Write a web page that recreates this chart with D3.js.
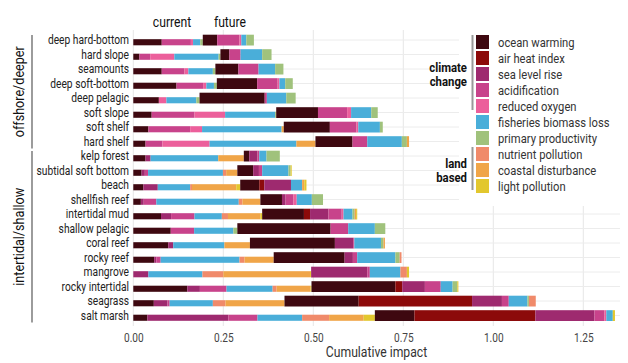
<!DOCTYPE html>
<html><head><meta charset="utf-8">
<script src="https://cdn.jsdelivr.net/npm/d3@7"></script>
<style>
body{margin:0;background:#fff;}
text{font-family:"Roboto","Noto Sans",sans-serif;}
</style></head>
<body><svg id="c" width="628" height="363"></svg>
<script>
const categories = ["deep hard-bottom","hard slope","seamounts","deep soft-bottom","deep pelagic","soft slope","soft shelf","hard shelf",
  "kelp forest","subtidal soft bottom","beach","shellfish reef","intertidal mud","shallow pelagic","coral reef","rocky reef","mangrove","rocky intertidal","seagrass","salt marsh"];
const groups = [{name:"offshore/deeper", from:0, to:7},{name:"intertidal/shallow", from:8, to:19}];
const stressors = ["ocean warming","air heat index","sea level rise","acidification","reduced oxygen","fisheries biomass loss","primary productivity","nutrient pollution","coastal disturbance","light pollution"];
const colors = ["#3e0810","#8c0a0a","#9e2a6f","#c8438b","#ec5f9b","#4aaed9","#a0c27c","#f08a6a","#f0a548","#e2c72e"];
const legendGroups = [{name:["climate","change"], from:0, to:4},{name:["land","based"], from:7, to:9}];
const xTicks = [0,0.25,0.5,0.75,1.0,1.25];
// columns follow stressors order
const currentImpact = [
 [0.079,0,0,0.081,0.006,0.020,0.007,0,0,0],
 [0.017,0,0,0.030,0.067,0.123,0.005,0,0,0],
 [0.079,0,0,0.063,0.011,0.068,0.007,0,0,0],
 [0.120,0,0,0.074,0.009,0.021,0.008,0,0,0],
 [0.071,0,0,0,0.021,0.083,0.009,0,0,0],
 [0.051,0,0,0.119,0.085,0.139,0.003,0,0,0],
 [0.042,0,0,0.116,0.033,0.221,0,0,0.006,0],
 [0.034,0,0,0.047,0.131,0.241,0,0,0.053,0],
 [0.034,0,0.014,0,0,0.188,0,0,0.071,0],
 [0.023,0,0.009,0.009,0,0.208,0,0.009,0.031,0],
 [0.028,0,0.040,0,0,0.090,0,0.005,0.123,0.011],
 [0.021,0,0.008,0.035,0,0.229,0,0.010,0.050,0],
 [0.077,0,0.028,0.065,0,0.076,0,0.017,0.090,0.005],
 [0.104,0,0,0.065,0,0.109,0.011,0,0,0],
 [0.097,0,0.014,0,0,0.142,0,0,0.071,0],
 [0.058,0,0.006,0.012,0,0.219,0,0.014,0.081,0],
 [0,0,0.042,0,0,0.150,0,0.058,0.241,0.003],
 [0.150,0,0.035,0.074,0,0.128,0,0.011,0.094,0.003],
 [0.057,0,0.038,0.006,0,0.120,0,0.035,0.164,0],
 [0.039,0,0.225,0.081,0,0.124,0,0.075,0.096,0.031]
];
const futureImpact = [
 [0.040,0,0,0.062,0.005,0.014,0.021,0,0,0],
 [0.025,0,0,0.031,0,0.060,0.026,0,0,0],
 [0.064,0,0,0.056,0,0.046,0.023,0,0,0],
 [0.112,0,0,0.057,0.005,0.016,0.021,0,0,0],
 [0.181,0,0,0.006,0,0.054,0.026,0,0,0],
 [0.116,0,0,0.081,0.011,0.056,0.018,0,0,0],
 [0.128,0,0,0.074,0.005,0.060,0.008,0,0,0],
 [0.103,0,0,0.041,0,0.096,0.014,0,0.006,0],
 [0.015,0,0.023,0.005,0,0.020,0.037,0,0,0],
 [0.044,0,0.016,0.009,0,0.073,0.006,0,0,0.003],
 [0.053,0.014,0.074,0,0,0.031,0,0,0.006,0.006],
 [0.060,0,0.010,0.022,0.009,0.042,0.031,0,0,0],
 [0.116,0.017,0.051,0.037,0.005,0.025,0.006,0,0.004,0.003],
 [0.259,0,0,0.049,0,0.074,0.029,0,0,0],
 [0.236,0,0.051,0.003,0,0.074,0.007,0,0.004,0],
 [0.197,0,0.023,0.012,0,0.106,0.012,0.005,0,0],
 [0,0,0.156,0.007,0,0.085,0,0.018,0,0.006],
 [0.233,0.019,0.063,0.044,0,0.033,0.013,0,0,0.003],
 [0.206,0.315,0.083,0.019,0,0.052,0.004,0.019,0,0],
 [0.110,0.336,0.164,0.028,0.005,0.018,0,0,0,0.006]
];

const svg = d3.select("#c");
const x = d3.scaleLinear().domain([0,1.352]).range([133.3,620]);
const y = d3.scalePoint().domain(categories).range([40,315.5]);
const color = d3.scaleOrdinal().domain(stressors).range(colors);

// emulate condensed face
function condense(sel, f){
  sel.each(function(){ const L=this.getComputedTextLength(); d3.select(this).attr("textLength",L*f).attr("lengthAdjust","spacingAndGlyphs"); });
}
const CF = 0.84;

// gridlines
const grid = svg.append("g");
grid.selectAll("line.v").data(xTicks).join("line")
  .attr("x1",d=>x(d)).attr("x2",d=>x(d)).attr("y1",30).attr("y2",326)
  .attr("stroke","#e6e6e6").attr("stroke-width",1);
grid.selectAll("line.h").data(categories).join("line")
  .attr("x1",x(0)).attr("x2",620).attr("y1",d=>y(d)).attr("y2",d=>y(d))
  .attr("stroke","#ececec").attr("stroke-width",1);

// segments
const segs = [];
categories.forEach((c,i)=>{
  let acc = 0;
  stressors.forEach((s,j)=>{ const v=currentImpact[i][j]; if(v>0){segs.push({c,s,x0:acc,x1:acc+v,type:"current"});} acc+=v; });
  stressors.forEach((s,j)=>{ const v=futureImpact[i][j]; if(v>0){segs.push({c,s,x0:acc,x1:acc+v,type:"future"});} acc+=v; });
});
svg.append("g").selectAll("rect").data(segs).join("rect")
  .attr("x",d=>x(d.x0)).attr("width",d=>x(d.x1)-x(d.x0))
  .attr("y",d=>d.type==="future"? y(d.c)-5.3 : y(d.c)-0.8)
  .attr("height",d=>d.type==="future"? 10.8 : 6.1)
  .attr("fill",d=>color(d.s));

// legend background
svg.append("rect").attr("x",459).attr("y",0).attr("width",169).attr("height",206).attr("fill","#fff");

// x axis
const xa = svg.append("g").attr("transform","translate(0,329)")
  .call(d3.axisBottom(x).tickValues(xTicks).tickFormat(d3.format(".2f")).tickSize(0).tickPadding(4));
xa.select(".domain").remove();
xa.selectAll("text").attr("font-size",12).attr("fill","#444").attr("font-family",null);
condense(xa.selectAll("text"), CF);
const xt = svg.append("text").attr("x",376.5).attr("y",357).attr("text-anchor","middle")
  .attr("font-size",14.5).attr("fill","#333").text("Cumulative impact");
condense(xt, CF);

// y axis labels
const ya = svg.append("g").attr("transform","translate(131,0)")
  .call(d3.axisLeft(y).tickSize(0).tickPadding(2));
ya.select(".domain").remove();
ya.selectAll("text").attr("font-size",12.2).attr("fill","#222").attr("font-family",null);
condense(ya.selectAll("text"), CF);

// group brackets
const gg = svg.append("g");
groups.forEach(g=>{
  const y0 = y(categories[g.from])-5, y1 = y(categories[g.to])+7;
  gg.append("line").attr("x1",32).attr("x2",32).attr("y1",y0).attr("y2",y1).attr("stroke","#666").attr("stroke-width",1.3);
  const t = gg.append("text").attr("transform",`translate(24,${(y0+y1)/2}) rotate(-90)`)
    .attr("text-anchor","middle").attr("font-size",15).attr("fill","#111").text(g.name);
  condense(t, CF);
});

// current / future headers
const h1 = svg.append("text").attr("x",172).attr("y",27).attr("text-anchor","middle").attr("font-size",14.5).attr("fill","#111").text("current");
const h2 = svg.append("text").attr("x",230).attr("y",27).attr("text-anchor","middle").attr("font-size",14.5).attr("fill","#111").text("future");
condense(h1, CF); condense(h2, CF);

// legend
const lg = svg.append("g");
const ly = i => 42 + i*16;
lg.selectAll("rect").data(stressors).join("rect")
  .attr("x",476).attr("y",(d,i)=>ly(i)-7).attr("width",13).attr("height",14).attr("fill",d=>color(d));
const lt = lg.selectAll("text.item").data(stressors).join("text").attr("class","item")
  .attr("x",498).attr("y",(d,i)=>ly(i)+4.7).attr("font-size",13.5).attr("fill","#333").text(d=>d);
condense(lt, 0.83);
legendGroups.forEach(g=>{
  const y0 = ly(g.from)-7, y1 = ly(g.to)+4;
  lg.append("line").attr("x1",472.5).attr("x2",472.5).attr("y1",y0).attr("y2",y1).attr("stroke","#999").attr("stroke-width",2);
  const mid = (ly(g.from)+ly(g.to))/2;
  g.name.forEach((t,k)=>{
    const tt = lg.append("text").attr("x",467).attr("y",mid - 7 + k*14 + 4.5).attr("text-anchor","end")
      .attr("font-size",13.5).attr("font-weight","bold").attr("fill","#111").text(t);
    condense(tt, CF);
  });
});
</script></body></html>
